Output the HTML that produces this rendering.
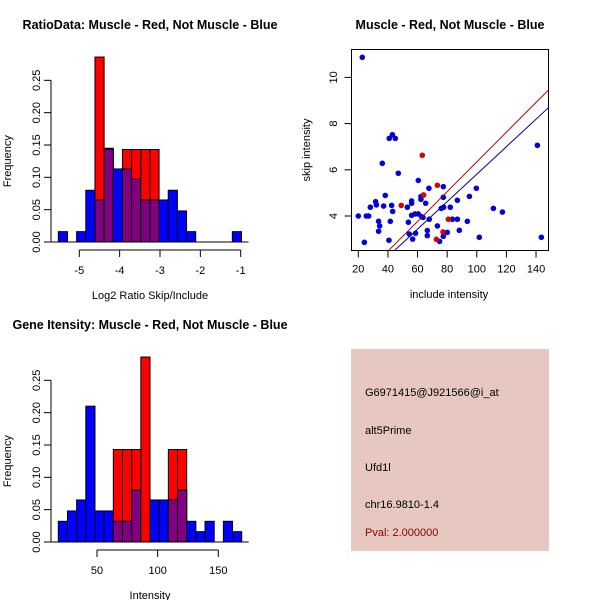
<!DOCTYPE html>
<html><head><meta charset="utf-8">
<style>
html,body{margin:0;padding:0;background:#fff;}
svg{display:block;font-family:"Liberation Sans",Arial,sans-serif;}
</style></head>
<body>
<svg id="chart" width="600" height="600" viewBox="0 0 600 600" xmlns="http://www.w3.org/2000/svg">
<rect width="600" height="600" fill="#fff"/>
<text x="150" y="29" text-anchor="middle" font-size="12.5" font-weight="bold">RatioData: Muscle - Red, Not Muscle - Blue</text>
<text x="450" y="29" text-anchor="middle" font-size="12.5" font-weight="bold">Muscle - Red, Not Muscle - Blue</text>
<text x="150" y="329" text-anchor="middle" font-size="12.5" font-weight="bold">Gene Itensity: Muscle - Red, Not Muscle - Blue</text>
<g id="g1"></g>
<g id="g2"></g>
<g id="g3"></g>
<g>
<rect x="351" y="349" width="198" height="202" fill="#E6C8C0"/>
<text x="365" y="396" font-size="11">G6971415@J921566@i_at</text>
<text x="365" y="434" font-size="11">alt5Prime</text>
<text x="365" y="471" font-size="11">Ufd1l</text>
<text x="365" y="508" font-size="11">chr16.9810-1.4</text>
<text x="365" y="536" font-size="11" fill="#8B0000">Pval: 2.000000</text>
</g>
</svg>
<script>
// Ratio histogram data (20 bins from -5.52 to -0.98)
const ratioBinStart = -5.52;
const ratioBinWidth = 0.227;
const ratioBlue = [0.016,0,0.016,0.08,0.065,0.145,0.113,0.113,0.097,0.065,0.065,0.065,0.08,0.048,0.016,0,0,0,0,0.016];
const ratioRed  = [0,0,0,0,0.286,0.143,0,0.143,0.143,0.143,0.143,0,0,0,0,0,0,0,0,0];
const ratioXTicks = [-5,-4,-3,-2,-1];
const freqTicks = ["0.00","0.05","0.10","0.15","0.20","0.25"];
// Intensity histogram data
const intBinStart = 18.1;
const intBinWidth = 7.56;
const intBlue = [0.032,0.048,0.065,0.21,0.048,0.048,0.032,0.032,0.08,0,0.065,0.065,0.065,0.08,0.032,0.016,0.032,0,0.032,0.016];
const intRed  = [0,0,0,0,0,0,0.143,0.143,0.143,0.286,0,0,0.143,0.143,0,0,0,0,0,0];
const intXTicks = [50,100,150];
// Scatter data
const blueX = [22.7,24.1,20,25.4,27,28.1,31.7,32.2,33.7,33.7,34.4,36.2,37.1,38.2,40.7,41.6,40.9,43,45,42.5,43.2,47,53.1,53.8,54.4,56,56,56,56.7,58.3,58.7,60.5,60.5,62.3,62.3,62.8,63.7,65.5,66.6,66.6,67.7,67.9,73.4,74.9,76,77.4,77.4,77.6,77.4,80.1,82.1,83.5,86.9,86.9,88.2,93.6,95,99.7,101.7,111.2,117.3,140.9,143.6];
const blueY = [10.87,2.86,4.0,4.0,4.0,4.38,4.62,4.48,3.77,3.34,3.57,6.28,4.43,4.89,2.95,3.77,7.36,7.52,7.36,4.46,4.2,5.85,4.38,3.73,3.22,4.65,4.55,4.03,3.0,4.09,3.25,4.09,5.54,4.84,4.72,3.97,3.94,4.55,3.37,3.15,5.2,3.86,3.57,2.9,4.33,5.27,4.81,4.38,3.12,3.29,4.38,3.86,3.86,4.68,3.38,3.77,4.85,5.2,3.08,4.33,4.17,7.06,3.08];
const redX = [63.2,64.1,49,73.4,80.8,77.2,72.7];
const redY = [6.63,4.91,4.46,5.33,3.86,3.31,2.99];
const redLine = [ -0.10, 0.0644 ]; // intercept, slope
const blueLine = [ -0.14, 0.0595 ];
const scatterXTicks = [20,40,60,80,100,120,140];
const scatterYTicks = [4,6,8,10];

const NS="http://www.w3.org/2000/svg";
function mk(parent,tag,attrs){const e=document.createElementNS(NS,tag);for(const k in attrs)e.setAttribute(k,attrs[k]);parent.appendChild(e);return e;}

function hist(g, y0, binStart, binW, blue, red, xTicks, xsc, xLabel, prefix){
  const ys = v => y0 - v*646.7;
  const n = blue.length;
  for(let i=0;i<n;i++){
    const x1=xsc(binStart+i*binW), x2=xsc(binStart+(i+1)*binW);
    const b=blue[i], r=red[i];
    if(b>0){const e=mk(g,'rect',{x:x1,y:ys(b),width:x2-x1,height:ys(0)-ys(b),fill:'#0000FF',stroke:'#000','stroke-width':1});
      
      }
    if(r>0){const e=mk(g,'rect',{x:x1,y:ys(r),width:x2-x1,height:ys(0)-ys(r),fill:'#FF0000',stroke:'#000','stroke-width':1});
      
      }
    if(b>0&&r>0){const m=Math.min(b,r);const e=mk(g,'rect',{x:x1,y:ys(m),width:x2-x1,height:ys(0)-ys(m),fill:'#800080',stroke:'#000','stroke-width':1});
      
      }
  }
  const ya=mk(g,'line',{x1:51,x2:51,y1:ys(0),y2:ys(0.25),stroke:'#000'});
  
  
  freqTicks.forEach((t,i)=>{const y=ys(i*0.05);mk(g,'line',{x1:44,x2:51,y1:y,y2:y,stroke:'#000'});
    const tx=mk(g,'text',{x:40,y:y,'font-size':11,'text-anchor':'middle',transform:`rotate(-90 40 ${y})`});tx.textContent=t;
    
    });
  const yl=mk(g,'text',{x:11,y:ys(0.125),'font-size':11,'text-anchor':'middle',transform:`rotate(-90 11 ${ys(0.125)})`});yl.textContent='Frequency';
  
  
  const ax=y0+8;
  const xa=mk(g,'line',{x1:xsc(xTicks[0]),x2:xsc(xTicks[xTicks.length-1]),y1:ax,y2:ax,stroke:'#000'});
  
  
  xTicks.forEach(t=>{const x=xsc(t);mk(g,'line',{x1:x,x2:x,y1:ax,y2:ax+7,stroke:'#000'});
    const tx=mk(g,'text',{x:x,y:ax+24,'font-size':11,'text-anchor':'middle'});tx.textContent=t;
    
    });
  const xl=mk(g,'text',{x:150,y:y0+57,'font-size':11,'text-anchor':'middle'});xl.textContent=xLabel;
  
  
  mk(g,'line',{x1:xsc(binStart)-7,x2:xsc(binStart+n*binW)+7,y1:y0,y2:y0,stroke:'#000'});
}
hist(document.getElementById('g1'),242,ratioBinStart,ratioBinWidth,ratioBlue,ratioRed,ratioXTicks,v=>79.3+(v+5)*40.35,'Log2 Ratio Skip/Include','ratio');
hist(document.getElementById('g3'),542,intBinStart,intBinWidth,intBlue,intRed,intXTicks,v=>97+(v-50)*1.213,'Intensity','intensity');

(function(){
  const g=document.getElementById('g2');
  const L=351.5,R=548.5,T=49.5,B=250.5;
  const xs=v=>358.3+(v-20)*1.481, ys=v=>216-(v-4)*23.1;
  mk(g,'defs',{}).innerHTML='<clipPath id="cp"><rect x="351.5" y="49.5" width="197" height="201"/></clipPath>';
  const box=mk(g,'rect',{x:L,y:T,width:R-L,height:B-T,fill:'none',stroke:'#000'});
  
  
  blueX.forEach((x,i)=>{const c=mk(g,'circle',{cx:xs(x),cy:ys(blueY[i]),r:2.8,fill:'#0000DD'});
    
    });
  redX.forEach((x,i)=>{const c=mk(g,'circle',{cx:xs(x),cy:ys(redY[i]),r:2.8,fill:'#DD0000'});
    
    });
  [[redLine,'#B00000','red-fit-line'],[blueLine,'#00008B','blue-fit-line']].forEach(([p,col,nm])=>{
    const x1=10,x2=160;
    const l=mk(g,'line',{x1:xs(x1),y1:ys(p[0]+p[1]*x1),x2:xs(x2),y2:ys(p[0]+p[1]*x2),stroke:col,'stroke-width':1,'clip-path':'url(#cp)'});
    
    });
  scatterXTicks.forEach(t=>{const x=xs(t);mk(g,'line',{x1:x,x2:x,y1:B,y2:B+7,stroke:'#000'});
    const tx=mk(g,'text',{x:x,y:B+22,'font-size':11,'text-anchor':'middle'});tx.textContent=t;
    
    });
  scatterYTicks.forEach(t=>{const y=ys(t);mk(g,'line',{x1:L-7,x2:L,y1:y,y2:y,stroke:'#000'});
    const tx=mk(g,'text',{x:337,y:y,'font-size':11,'text-anchor':'middle',transform:`rotate(-90 337 ${y})`});tx.textContent=t;
    
    });
  const xl=mk(g,'text',{x:449,y:298,'font-size':11,'text-anchor':'middle'});xl.textContent='include intensity';
  
  
  const yl=mk(g,'text',{x:310,y:150,'font-size':11,'text-anchor':'middle',transform:'rotate(-90 310 150)'});yl.textContent='skip intensity';
  
  
})();
</script>
</body></html>
